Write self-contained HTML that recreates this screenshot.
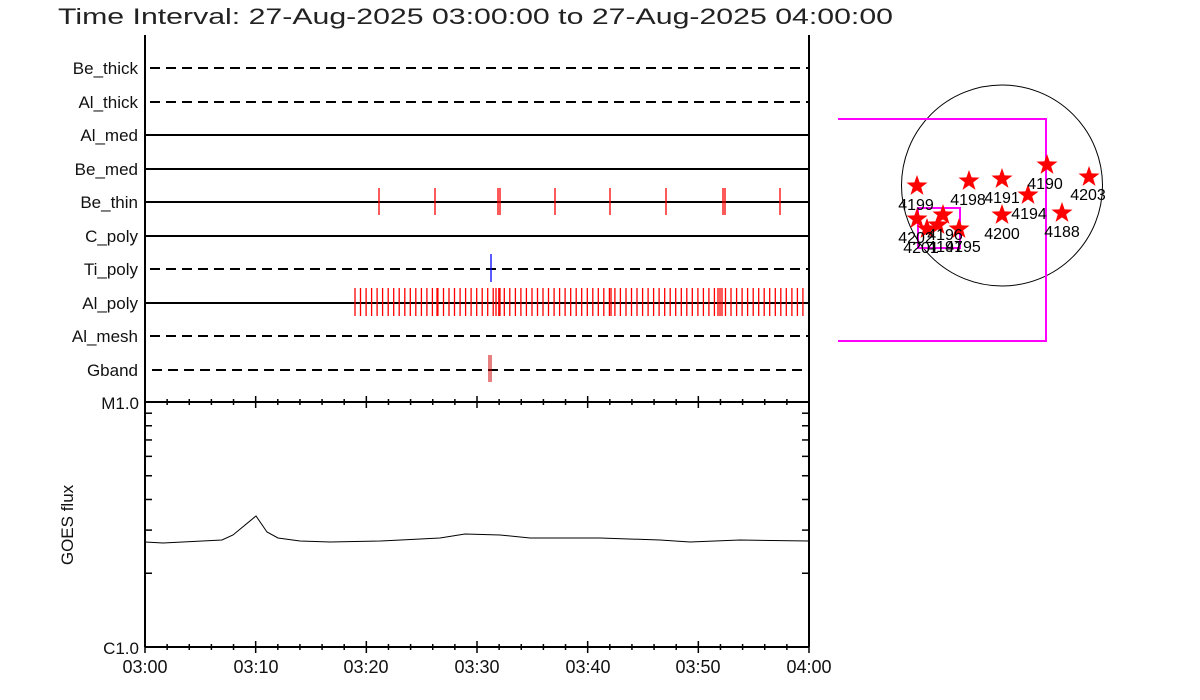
<!DOCTYPE html>
<html><head><meta charset="utf-8"><style>
html,body{margin:0;padding:0;background:#fff;}
svg{display:block;font-family:"Liberation Sans",sans-serif;}
</style></head><body>
<svg id="s" width="1200" height="700" xmlns="http://www.w3.org/2000/svg">
<rect width="1200" height="700" fill="#fff"/>
<text x="58" y="24" font-size="22" fill="#222" textLength="835" lengthAdjust="spacingAndGlyphs">Time Interval: 27-Aug-2025 03:00:00 to 27-Aug-2025 04:00:00</text>
<g id="top" stroke="#000" stroke-width="2" fill="none">
<line x1="145" y1="35" x2="145" y2="647"/>
<line x1="809" y1="35" x2="809" y2="647"/>
<line x1="145" y1="402" x2="809" y2="402"/>
<line x1="145" y1="647" x2="809" y2="647"/>
</g>
<g font-size="17" text-anchor="end" fill="#111">
<text x="138" y="74">Be_thick</text>
<text x="138" y="108">Al_thick</text>
<text x="138" y="141">Al_med</text>
<text x="138" y="175">Be_med</text>
<text x="138" y="208">Be_thin</text>
<text x="138" y="242">C_poly</text>
<text x="138" y="275">Ti_poly</text>
<text x="138" y="309">Al_poly</text>
<text x="138" y="342">Al_mesh</text>
<text x="138" y="376">Gband</text>
</g>
<g stroke="#000" stroke-width="2">
<line x1="150" y1="68" x2="809" y2="68" stroke-dasharray="10,6"/>
<line x1="150" y1="102" x2="809" y2="102" stroke-dasharray="10,6"/>
<line x1="145" y1="135" x2="809" y2="135"/>
<line x1="145" y1="169" x2="809" y2="169"/>
<line x1="145" y1="202" x2="809" y2="202"/>
<line x1="145" y1="236" x2="809" y2="236"/>
<line x1="150" y1="269" x2="809" y2="269" stroke-dasharray="10,6"/>
<line x1="145" y1="303" x2="809" y2="303"/>
<line x1="150" y1="336" x2="809" y2="336" stroke-dasharray="10,6"/>
<line x1="152" y1="370" x2="809" y2="370" stroke-dasharray="10,6"/>
</g>
<g id="ticks" stroke="#f00" stroke-width="1.3"></g>
<line x1="491" y1="254" x2="491" y2="282" stroke="#00f" stroke-width="1.3"/>
<line x1="489" y1="355" x2="489" y2="382" stroke="#c00" stroke-width="1"/>
<line x1="491" y1="355" x2="491" y2="382" stroke="#c00" stroke-width="1"/>
<g id="ax" stroke="#000" stroke-width="1.5"></g>
<g font-size="17" text-anchor="end" fill="#111">
<text x="139" y="409">M1.0</text>
<text x="139" y="654">C1.0</text>
</g>
<text transform="translate(73,525) rotate(-90)" font-size="17" text-anchor="middle" fill="#111">GOES flux</text>
<g font-size="18" text-anchor="middle" fill="#111">
<text x="145" y="673">03:00</text>
<text x="256" y="673">03:10</text>
<text x="366" y="673">03:20</text>
<text x="477" y="673">03:30</text>
<text x="588" y="673">03:40</text>
<text x="698" y="673">03:50</text>
<text x="809" y="673">04:00</text>
</g>
<polyline fill="none" stroke="#000" stroke-width="1" points="145,542 163,543 222,540 233,535 256,516 267,532 278,538 300,541 330,542 380,541 440,538 465,534 500,535 530,538 600,538 660,540 690,542 740,540 809,541"/>
<circle cx="1002" cy="185.5" r="100.5" fill="none" stroke="#000" stroke-width="1"/>
<polyline fill="none" stroke="#f0f" stroke-width="2" points="838,119 1046,119 1046,341 838,341"/>
<rect x="918" y="208" width="42" height="40" fill="none" stroke="#f0f" stroke-width="2"/>
<g id="stars" fill="#f00"></g>
<g font-size="16" text-anchor="middle">
<text x="916" y="210">4199</text>
<text x="968" y="205">4198</text>
<text x="1002" y="203">4191</text>
<text x="1045" y="189">4190</text>
<text x="1088" y="200">4203</text>
<text x="1029" y="219">4194</text>
<text x="1062" y="237">4188</text>
<text x="1002" y="239">4200</text>
<text x="916" y="243">4202</text>
<text x="921" y="253">4201</text>
<text x="945" y="240">4196</text>
<text x="963" y="252">4195</text>
<text x="945" y="252">4197</text>
</g>
<script>
var NS="http://www.w3.org/2000/svg";
function ln(g,x1,y1,x2,y2,c){var l=document.createElementNS(NS,"line");l.setAttribute("x1",x1);l.setAttribute("y1",y1);l.setAttribute("x2",x2);l.setAttribute("y2",y2);if(c)l.setAttribute("stroke",c);g.appendChild(l);}
var t=document.getElementById("ticks");
[379,435,498,500,555,610,666,723,725,780].forEach(function(x){ln(t,x,188,x,215);});
for(var x=355;x<=808;x+=5.53){ln(t,x.toFixed(1),288,x.toFixed(1),316);}
[437,496,500,611,718,722].forEach(function(x){ln(t,x,288,x,316);});
var a=document.getElementById("ax");
for(var m=0;m<=60;m+=2){var x=145+m*664/60;var L=(m%10==0)?6:3;
ln(a,x,402-L,x,402+L);ln(a,x,647-L,x,647+L);}
for(var k=2;k<=9;k++){var y=647-245*Math.log10(k);ln(a,145,y,152,y);ln(a,809,y,802,y);}
var s=document.getElementById("stars");
function star(cx,cy,r){var p=[];for(var i=0;i<10;i++){var rr=i%2?r*0.4:r;var an=-Math.PI/2+i*Math.PI/5;p.push((cx+rr*Math.cos(an)).toFixed(1)+","+(cy+rr*Math.sin(an)).toFixed(1));}
var e=document.createElementNS(NS,"polygon");e.setAttribute("points",p.join(" "));s.appendChild(e);}
[[917,186],[969,181],[1002,179],[1047,165],[1089,177],[1028,195],[1062,213],[1002,215],[917,219],[943,215],[927,229],[938,225],[959,229]].forEach(function(p){star(p[0],p[1],11);});
</script>
</svg>
</body></html>
